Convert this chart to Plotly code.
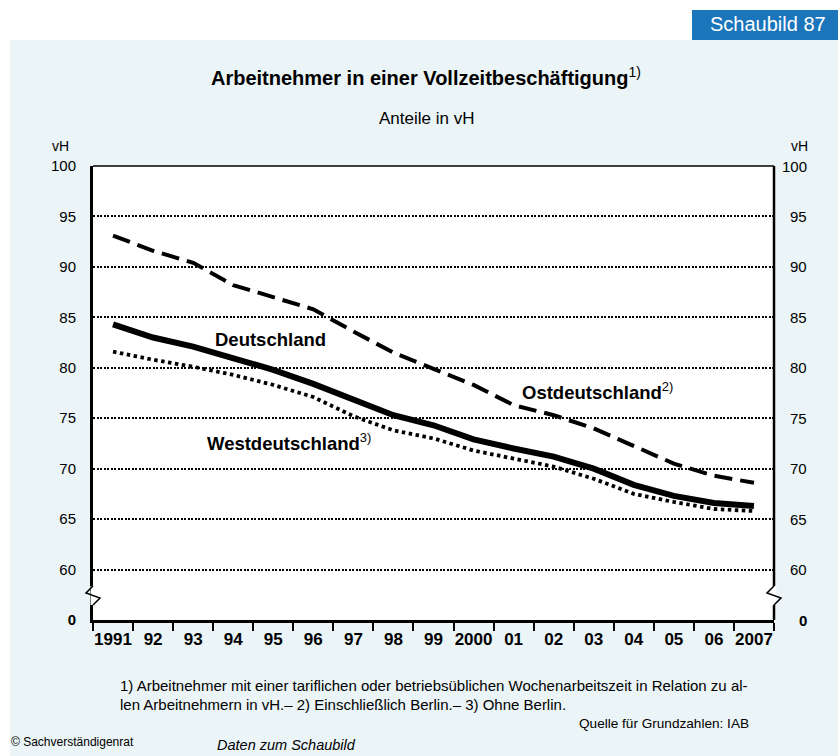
import plotly.graph_objects as go

years = list(range(1991, 2008))
year_labels = ["1991", "92", "93", "94", "95", "96", "97", "98", "99", "2000",
               "01", "02", "03", "04", "05", "06", "2007"]
deutschland = [84.3, 83.0, 82.1, 81.0, 79.8, 78.4, 76.8, 75.3, 74.3, 72.9,
               72.0, 71.2, 70.0, 68.4, 67.3, 66.6, 66.3]
westdeutschland = [81.6, 80.8, 80.1, 79.3, 78.3, 77.1, 75.2, 73.8, 73.0, 71.8,
                   71.0, 70.2, 69.0, 67.5, 66.7, 66.0, 65.8]
ostdeutschland = [93.1, 91.6, 90.4, 88.2, 87.0, 85.8, 83.6, 81.5, 79.9, 78.3,
                  76.3, 75.3, 74.0, 72.3, 70.5, 69.3, 68.6]
y_tickvals = [55, 60, 65, 70, 75, 80, 85, 90, 95, 100]
y_ticktext = ["<b>0</b>", "60", "65", "70", "75", "80", "85", "90", "95", "100"]

W, H = 838, 756
L, R, T, B = 93, 774, 166, 620
FONT = "Liberation Sans, Arial, sans-serif"
BG = "#EBF4F7"


def px(xp):
    return (xp - L) / (R - L)


def py(yp):
    return (B - yp) / (B - T)


fig = go.Figure()
fig.add_trace(go.Scatter(x=years, y=ostdeutschland, mode="lines",
                         line=dict(color="black", width=4, dash="18px,8px"),
                         hoverinfo="skip"))
fig.add_trace(go.Scatter(x=years, y=westdeutschland, mode="lines",
                         line=dict(color="black", width=3.8, dash="3.5px,3.5px"),
                         hoverinfo="skip"))
fig.add_trace(go.Scatter(x=years, y=deutschland, mode="lines",
                         line=dict(color="black", width=6),
                         hoverinfo="skip"))

shapes = []
shapes.append(dict(type="rect", xref="paper", yref="paper", layer="below",
                   x0=px(-5), x1=px(W + 5), y0=py(40), y1=py(-5),
                   fillcolor="white", line=dict(width=0)))
shapes.append(dict(type="rect", xref="paper", yref="paper", layer="below",
                   x0=px(-5), x1=px(10), y0=py(H + 5), y1=py(-5),
                   fillcolor="white", line=dict(width=0)))
shapes.append(dict(type="rect", xref="paper", yref="paper", layer="below",
                   x0=px(692), x1=px(W + 2), y0=py(40), y1=py(10),
                   fillcolor="#1B75BB", line=dict(width=0)))
shapes.append(dict(type="line", xref="paper", yref="paper",
                   x0=0, x1=1, y0=1, y1=1, line=dict(color="black", width=1.5)))
shapes.append(dict(type="line", xref="paper", yref="paper",
                   x0=1, x1=1, y0=0, y1=1, line=dict(color="black", width=2.5)))

for xa in (L, R):
    shapes.append(dict(type="rect", xref="paper", yref="paper",
                       x0=px(xa - 2.5), x1=px(xa + 2.5), y0=py(605), y1=py(586),
                       fillcolor="white", line=dict(width=0)))
    path = "M{},{} L{},{} L{},{} L{},{}".format(
        px(xa), py(586), px(xa - 7), py(593), px(xa + 7), py(598), px(xa), py(605))
    shapes.append(dict(type="path", xref="paper", yref="paper", path=path,
                       line=dict(color="black", width=1.5)))

annotations = []


def add_text(text, x, y, size, xanchor="center", color="black", yanchor="middle"):
    annotations.append(dict(text=text, x=px(x), y=py(y), xref="paper", yref="paper",
                            xanchor=xanchor, yanchor=yanchor, showarrow=False,
                            font=dict(family=FONT, size=size, color=color)))


add_text("Schaubild 87", 768, 24, 20, color="white")
add_text("<b>Arbeitnehmer in einer Vollzeitbeschäftigung</b><sup>1)</sup>", 426, 76, 20)
add_text("Anteile in vH", 426, 119, 17)
add_text("vH", 71, 146, 14, xanchor="right")
add_text("vH", 810, 146, 14, xanchor="right")
add_text("1) Arbeitnehmer mit einer tariflichen oder betriebsüblichen Wochenarbeitszeit in Relation zu al-",
         118, 685, 15, xanchor="left")
add_text("len Arbeitnehmern in vH.– 2) Einschließlich Berlin.– 3) Ohne Berlin.",
         118, 704, 15, xanchor="left")
add_text("Quelle für Grundzahlen: IAB", 751, 723, 13.6, xanchor="right")
add_text("© Sachverständigenrat", 9, 742, 12, xanchor="left")
add_text("<i>Daten zum Schaubild</i>", 286, 745, 14.5)

for v, t in zip(y_tickvals, y_ticktext):
    annotations.append(dict(text=t, x=px(809), y=v, xref="paper", yref="y",
                            xanchor="right", yanchor="middle", showarrow=False,
                            font=dict(family=FONT, size=15, color="black")))

annotations.append(dict(text="<b>Deutschland</b>", x=1994.92, y=82.8, xref="x", yref="y",
                        xanchor="center", showarrow=False,
                        font=dict(family=FONT, size=18.5, color="black")))
annotations.append(dict(text="<b>Westdeutschland</b><sup>3)</sup>", x=1995.4, y=72.6,
                        xref="x", yref="y", xanchor="center", showarrow=False,
                        font=dict(family=FONT, size=18.5, color="black")))
annotations.append(dict(text="<b>Ostdeutschland</b><sup>2)</sup>", x=2003.1, y=77.7,
                        xref="x", yref="y", xanchor="center", showarrow=False,
                        font=dict(family=FONT, size=18.5, color="black")))

fig.update_layout(
    width=W, height=H,
    margin=dict(l=L, r=W - R, t=T, b=H - B, pad=0),
    paper_bgcolor=BG, plot_bgcolor="white",
    showlegend=False,
    shapes=shapes, annotations=annotations,
    font=dict(family=FONT, color="black"),
    xaxis=dict(range=[1990.5, 2007.5], tickmode="array", tickvals=years,
               ticktext=year_labels, ticks="outside", ticklen=2,
               tickcolor="rgba(0,0,0,0)", showgrid=False, zeroline=False,
               showline=True, linecolor="black", linewidth=3,
               tickfont=dict(family=FONT, size=17, color="black", weight="bold"),
               minor=dict(tickmode="array",
                          tickvals=[y - 0.5 for y in years] + [years[-1] + 0.5],
                          ticks="outside", ticklen=8, tickcolor="black",
                          tickwidth=1.5, showgrid=False),
               fixedrange=True),
    yaxis=dict(range=[55, 100], tickmode="array", tickvals=y_tickvals,
               ticktext=y_ticktext, ticks="outside", ticklen=11,
               tickcolor="rgba(0,0,0,0)", showgrid=True, gridcolor="black",
               gridwidth=1.5, griddash="2px,1.5px", zeroline=False,
               showline=True, linecolor="black", linewidth=3,
               tickfont=dict(family=FONT, size=15, color="black"),
               fixedrange=True),
)

fig.write_html("out.html", config={"displayModeBar": False},
               post_script="document.body.style.margin='0px';")
